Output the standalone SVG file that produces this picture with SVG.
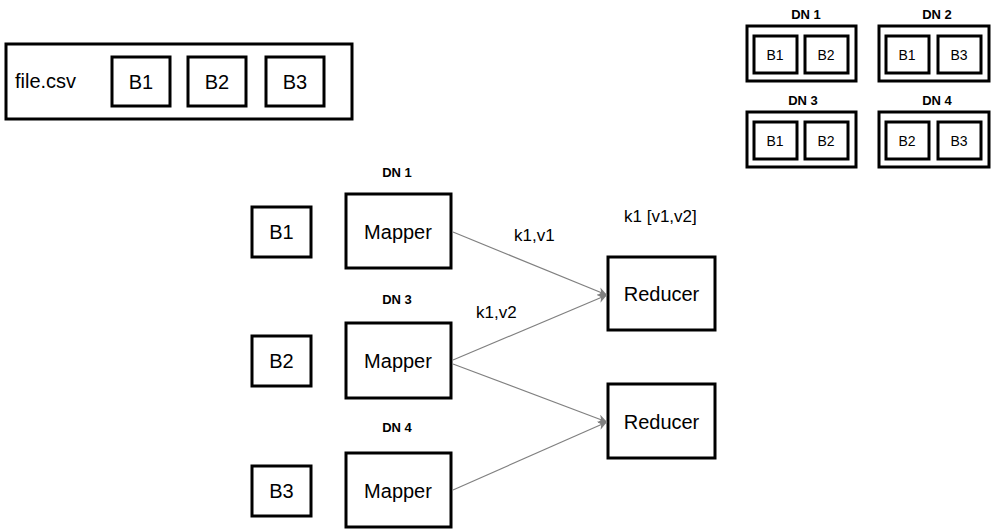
<svg xmlns="http://www.w3.org/2000/svg" width="998" height="530" viewBox="0 0 998 530">
<defs>
<style>
.box{fill:#fff;stroke:#000;stroke-width:3}
.t{font-family:"Liberation Sans",Arial,sans-serif;font-size:20px;fill:#000}
.ts{font-family:"Liberation Sans",Arial,sans-serif;font-size:14px;fill:#000;text-anchor:middle}
.lbl{font-family:"Liberation Sans",Arial,sans-serif;font-size:13px;font-weight:bold;fill:#000;text-anchor:middle}
.el{font-family:"Liberation Sans",Arial,sans-serif;font-size:17px;fill:#000}
.c{text-anchor:middle}
.edge{stroke:#808080;stroke-width:1.2;fill:none;marker-end:url(#arr)}
</style>
<marker id="arr" viewBox="0 0 10 10" refX="10" refY="5" markerWidth="9" markerHeight="9" markerUnits="userSpaceOnUse" orient="auto">
<path d="M0,0 L10,5 L0,10 L3,5 Z" fill="#808080"/>
</marker>
</defs>
<rect width="998" height="530" fill="#fff"/>

<g id="file">
<rect class="box" x="6" y="44" width="346" height="75"/>
<text class="t" x="15" y="88">file.csv</text>
<rect class="box" x="112" y="57" width="58" height="49"/>
<text class="t c" x="141" y="89">B1</text>
<rect class="box" x="188" y="57" width="58" height="49"/>
<text class="t c" x="217" y="89">B2</text>
<rect class="box" x="266" y="57" width="58" height="49"/>
<text class="t c" x="295" y="89">B3</text>
</g>

<g id="dn1-top">
<text class="lbl" x="806" y="19">DN 1</text>
<rect class="box" x="747" y="26" width="109" height="55"/>
<rect class="box" x="754" y="36" width="43" height="37"/>
<text class="ts" x="775" y="60">B1</text>
<rect class="box" x="805" y="36" width="43" height="37"/>
<text class="ts" x="826" y="60">B2</text>
</g>
<g id="dn2-top">
<text class="lbl" x="937" y="19">DN 2</text>
<rect class="box" x="879" y="26" width="110" height="55"/>
<rect class="box" x="886" y="36" width="43" height="37"/>
<text class="ts" x="907" y="60">B1</text>
<rect class="box" x="938" y="36" width="43" height="37"/>
<text class="ts" x="959" y="60">B3</text>
</g>
<g id="dn3-top">
<text class="lbl" x="803" y="105">DN 3</text>
<rect class="box" x="747" y="112" width="109" height="55"/>
<rect class="box" x="754" y="122" width="43" height="37"/>
<text class="ts" x="775" y="146">B1</text>
<rect class="box" x="805" y="122" width="43" height="37"/>
<text class="ts" x="826" y="146">B2</text>
</g>
<g id="dn4-top">
<text class="lbl" x="937" y="105">DN 4</text>
<rect class="box" x="879" y="112" width="110" height="55"/>
<rect class="box" x="886" y="122" width="43" height="37"/>
<text class="ts" x="907" y="146">B2</text>
<rect class="box" x="938" y="122" width="43" height="37"/>
<text class="ts" x="959" y="146">B3</text>
</g>

<g id="b1">
<rect class="box" x="252" y="207" width="59" height="50"/>
<text class="t c" x="281.5" y="239">B1</text>
</g>
<g id="b2">
<rect class="box" x="252" y="336" width="59" height="50"/>
<text class="t c" x="281.5" y="368">B2</text>
</g>
<g id="b3">
<rect class="box" x="252" y="466" width="59" height="50"/>
<text class="t c" x="281.5" y="498">B3</text>
</g>

<g id="mapper1">
<text class="lbl" x="397" y="177">DN 1</text>
<rect class="box" x="346" y="194" width="105" height="74"/>
<text class="t c" x="398" y="239">Mapper</text>
</g>
<g id="mapper3">
<text class="lbl" x="397" y="304">DN 3</text>
<rect class="box" x="346" y="323" width="105" height="75"/>
<text class="t c" x="398" y="368">Mapper</text>
</g>
<g id="mapper4">
<text class="lbl" x="397" y="432">DN 4</text>
<rect class="box" x="346" y="453" width="105" height="74"/>
<text class="t c" x="398" y="498">Mapper</text>
</g>

<g id="reducer1">
<rect class="box" x="608" y="257" width="107" height="73"/>
<text class="t c" x="661.5" y="301">Reducer</text>
</g>
<g id="reducer2">
<rect class="box" x="608" y="384" width="107" height="74"/>
<text class="t c" x="661.5" y="429">Reducer</text>
</g>

<g id="connectors">
<line class="edge" x1="453" y1="232" x2="607" y2="295"/>
<line class="edge" x1="453" y1="360" x2="607" y2="295"/>
<line class="edge" x1="453" y1="364" x2="607" y2="422"/>
<line class="edge" x1="453" y1="490" x2="607" y2="422"/>
<text class="el" x="514" y="241">k1,v1</text>
<text class="el" x="476" y="318">k1,v2</text>
<text class="el" x="624" y="222">k1 [v1,v2]</text>
</g>
</svg>
